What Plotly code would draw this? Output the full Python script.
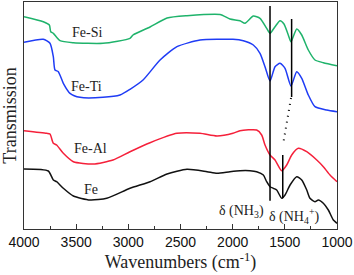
import plotly.graph_objects as go

# Wavenumbers (cm-1) and transmission (arbitrary units, stacked offsets)
fesi_w = [4000, 3815, 3757, 3744, 3719, 3655, 3527, 3243, 2984, 2955, 2792, 2629, 2438, 2121, 2026, 1930, 1882, 1802, 1738, 1674, 1642, 1594, 1546, 1508, 1467, 1441, 1386, 1338, 1275, 1211, 1131, 1000]
fesi_t = [212.3, 207.3, 204, 197.3, 195.7, 188.3, 186.3, 185.7, 190.7, 194, 202, 211, 213.3, 214.5, 210, 208.3, 205.7, 213, 210.7, 200.7, 195.7, 202.3, 208.3, 205, 194, 187.3, 200, 194, 179, 169, 166.3, 163.3]

feti_w = [4000, 3815, 3751, 3719, 3703, 3671, 3623, 3559, 3463, 3243, 3080, 2984, 2859, 2696, 2534, 2313, 1997, 1898, 1802, 1738, 1690, 1642, 1594, 1546, 1498, 1441, 1386, 1338, 1275, 1211, 1099, 1000]
feti_t = [186.7, 189.7, 185.7, 172.3, 159, 157.3, 145.7, 135.7, 131.7, 131.7, 134, 139.7, 149, 169, 182.3, 189, 189.7, 188.3, 184, 175.7, 162.3, 148, 162.3, 165.7, 160.7, 143, 157.3, 150.7, 134, 122.3, 119, 117.3]

feal_w = [4000, 3782, 3751, 3719, 3687, 3623, 3527, 3336, 3147, 2984, 2792, 2534, 2313, 2150, 1997, 1930, 1770, 1722, 1690, 1642, 1594, 1530, 1482, 1434, 1371, 1290, 1194, 1131, 1067, 1000]
feal_t = [98.3, 95.7, 95, 85.7, 84, 75.7, 67.3, 65, 69, 77.3, 86.3, 95.7, 95.7, 93, 95.7, 98.3, 99, 94, 84, 74, 69, 58.3, 64, 74, 80.7, 77.3, 69, 62.3, 54, 47.3]

fe_w = [4000, 3767, 3719, 3687, 3623, 3527, 3367, 3207, 2984, 2792, 2629, 2438, 2246, 2150, 2026, 1930, 1834, 1770, 1706, 1674, 1642, 1610, 1578, 1530, 1498, 1450, 1386, 1338, 1290, 1259, 1211, 1179, 1131, 1083, 1035, 1000]
fe_t = [60, 58, 49, 47.3, 40.7, 33, 29, 30.7, 40.7, 47.3, 55, 59.7, 57.3, 55.7, 57.3, 58.3, 58.3, 57.3, 54, 47.3, 42.3, 40.7, 39, 30.7, 34, 44, 52.3, 49, 39, 30.7, 27.3, 29, 25.7, 19, 9, 5.7]

series = [
    ("Fe-Si", fesi_w, fesi_t, "#1fb36b"),
    ("Fe-Ti", feti_w, feti_t, "#1f3cf5"),
    ("Fe-Al", feal_w, feal_t, "#f5203a"),
    ("Fe", fe_w, fe_t, "#111111"),
]

# marker lines: (wavenumber, T start, T end)
nh3_line = (1642, 223, 28.3)
nh4_line_top = (1435, 210, 132)
nh4_line_bot = (1520, 74, 31)
dotted_w = [1441, 1518]
dotted_t = [131, 84]

label_names = ["Fe-Si", "Fe-Ti", "Fe-Al", "Fe"]
label_w = [3399, 3399, 3367, 3358]
label_t = [196.3, 143, 80.7, 40]

peak_labels = ["δ (NH<sub>3</sub>)", "δ (NH<sub>4</sub><sup>+</sup>)"]
peak_w = [1915, 1412]
peak_t = [17.3, 13]

xticks = [4000, 3500, 3000, 2500, 2000, 1500, 1000]

fig = go.Figure()
for name, w, t, c in series:
    fig.add_trace(go.Scatter(x=w, y=t, mode="lines", name=name,
                             line=dict(color=c, width=1.5, shape="spline", smoothing=0.6)))

for (w, t0, t1) in [nh3_line, nh4_line_top, nh4_line_bot]:
    fig.add_trace(go.Scatter(x=[w, w], y=[t0, t1], mode="lines",
                             line=dict(color="black", width=1.5)))
fig.add_trace(go.Scatter(x=dotted_w, y=dotted_t, mode="lines",
                         line=dict(color="black", width=2, dash="1px,5px")))

serif = "Liberation Serif, Times New Roman, serif"
for n, w, t in zip(label_names, label_w, label_t):
    fig.add_annotation(x=w, y=t, text=n, showarrow=False,
                       font=dict(family=serif, size=14, color="#222"))
for n, w, t in zip(peak_labels, peak_w, peak_t):
    fig.add_annotation(x=w, y=t, text=n, showarrow=False,
                       font=dict(family=serif, size=14, color="#222"))

fig.update_layout(
    width=354, height=275,
    margin=dict(l=24, r=17, t=2, b=46),
    paper_bgcolor="white", plot_bgcolor="white",
    showlegend=False,
    xaxis=dict(range=[4000, 1000], tickvals=xticks, ticktext=[str(v) for v in xticks],
               ticks="inside", ticklen=5, tickwidth=1, tickcolor="#333",
               minor=dict(ticks="inside", ticklen=3, dtick=250, tickcolor="#333"),
               showline=True, linecolor="#333", linewidth=1, mirror=True,
               showgrid=False, zeroline=False,
               tickfont=dict(family="Liberation Sans, Arial, sans-serif", size=14, color="#111"),
               title=dict(text="Wavenumbers (cm<sup>-1</sup>)", standoff=4,
                          font=dict(family=serif, size=18, color="#222"))),
    yaxis=dict(range=[0, 227], showticklabels=False, ticks="",
               showline=True, linecolor="#333", linewidth=1, mirror=True,
               showgrid=False, zeroline=False,
               title=dict(text="Transmission", standoff=2,
                          font=dict(family=serif, size=18, color="#222"))),
)

fig.write_html("out.html", config={"displayModeBar": False},
               post_script="document.body.style.margin='0';document.body.style.overflow='hidden';")
